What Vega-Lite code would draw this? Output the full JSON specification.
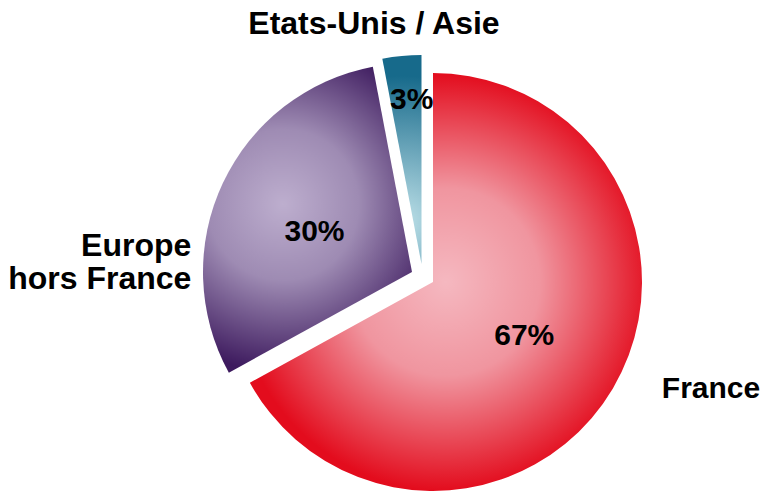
{
  "$schema": "https://vega.github.io/schema/vega-lite/v6.json",
  "autosize": "none",
  "width": 668,
  "height": 420,
  "padding": {"left": 99, "top": 72, "right": 0, "bottom": 0},
  "background": "white",
  "config": {"view": {"stroke": null}, "text": {"font": "Liberation Sans", "fontWeight": "bold", "fontSize": 30, "color": "black"}},
  "data": {"values": [
    {"category": "France", "share": 0.67, "label": "France"},
    {"category": "Europe", "share": 0.30, "label": "Europe\nhors France"},
    {"category": "Asie", "share": 0.03, "label": "Etats-Unis / Asie"}
  ]},
  "encoding": {
    "theta": {"field": "share", "type": "quantitative", "stack": true},
    "order": {"field": "share", "type": "quantitative", "sort": "descending"}
  },
  "layer": [
    {
      "mark": {"type": "arc", "outerRadius": 209, "fill": {"gradient": "radial", "x1": 0.5, "y1": 0.5, "r1": 0, "x2": 0.5, "y2": 0.5, "r2": 0.5, "stops": [{"offset": 0, "color": "#f5b8c0"}, {"offset": 0.45, "color": "#f0959f"}, {"offset": 1, "color": "#e30c1d"}]}},
      "encoding": {"opacity": {"condition": {"test": "datum.category === 'France'", "value": 1}, "value": 0}}
    },
    {
      "mark": {"type": "arc", "outerRadius": 209, "xOffset": -21, "yOffset": -10, "fill": {"gradient": "radial", "x1": 0.42, "y1": 0.45, "r1": 0, "x2": 0.42, "y2": 0.45, "r2": 0.55, "stops": [{"offset": 0, "color": "#bdaece"}, {"offset": 0.45, "color": "#9e8bb3"}, {"offset": 1, "color": "#3d1a5e"}]}},
      "encoding": {"opacity": {"condition": {"test": "datum.category === 'Europe'", "value": 1}, "value": 0}}
    },
    {
      "mark": {"type": "arc", "outerRadius": 209, "xOffset": -11.5, "yOffset": -18, "fill": {"gradient": "radial", "x1": 0.5, "y1": 0.8, "r1": 0, "x2": 0.5, "y2": 0.8, "r2": 0.7, "stops": [{"offset": 0, "color": "#bde0e8"}, {"offset": 1, "color": "#176a8b"}]}},
      "encoding": {"opacity": {"condition": {"test": "datum.category === 'Asie'", "value": 1}, "value": 0}}
    },
    {
      "mark": {"type": "text", "radius": 106, "dx": 0, "dy": 0},
      "encoding": {"text": {"field": "share", "type": "quantitative", "format": ".0%"}, "opacity": {"condition": {"test": "datum.category === 'France'", "value": 1}, "value": 0}}
    },
    {
      "mark": {"type": "text", "radius": 107, "dx": -21.7, "dy": -4},
      "encoding": {"text": {"field": "share", "type": "quantitative", "format": ".0%"}, "opacity": {"condition": {"test": "datum.category === 'Europe'", "value": 1}, "value": 0}}
    },
    {
      "mark": {"type": "text", "radius": 184, "dx": -4, "dy": 1},
      "encoding": {"text": {"field": "share", "type": "quantitative", "format": ".0%"}, "opacity": {"condition": {"test": "datum.category === 'Asie'", "value": 1}, "value": 0}}
    },
    {
      "mark": {"type": "text", "radius": 280, "dx": 37, "dy": -36},
      "encoding": {"text": {"field": "label", "type": "nominal"}, "opacity": {"condition": {"test": "datum.category === 'France'", "value": 1}, "value": 0}}
    },
    {
      "mark": {"type": "text", "radius": 245, "dx": -20, "dy": 53, "align": "right", "baseline": "top", "lineBreak": "\n", "lineHeight": 33, "fontSize": 32},
      "encoding": {"text": {"field": "label", "type": "nominal"}, "opacity": {"condition": {"test": "datum.category === 'Europe'", "value": 1}, "value": 0}}
    },
    {
      "mark": {"type": "text", "radius": 250, "dx": -35.5, "dy": -9, "fontSize": 32},
      "encoding": {"text": {"field": "label", "type": "nominal"}, "opacity": {"condition": {"test": "datum.category === 'Asie'", "value": 1}, "value": 0}}
    }
  ]
}
